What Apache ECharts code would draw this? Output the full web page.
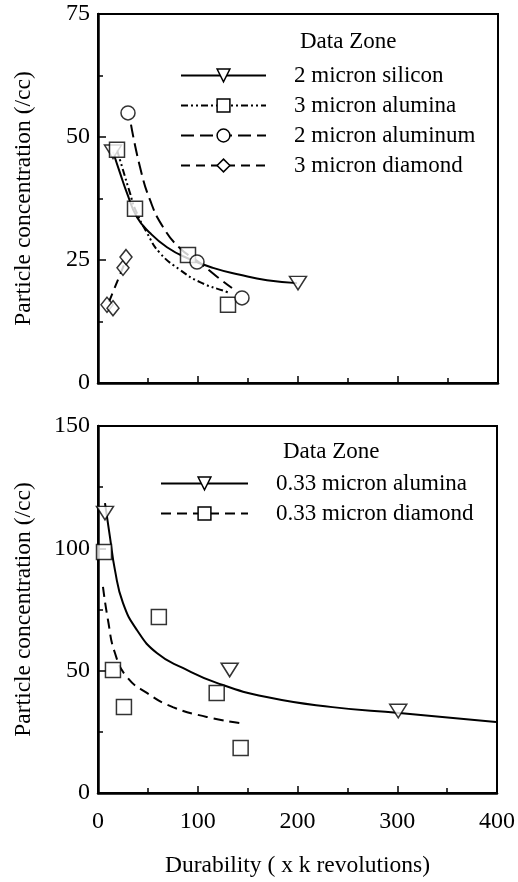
<!DOCTYPE html>
<html>
<head>
<meta charset="utf-8">
<script src="https://cdn.jsdelivr.net/npm/echarts@6/dist/echarts.min.js"></script>
<style>
html, body { margin: 0; padding: 0; background: #fff; }
#chart { width: 518px; height: 882px; }
</style>
</head>
<body>
<div id="chart"></div>
<script>
// top panel: markers and fitted curves (x = k revolutions, y = /cc)
const siliconPts = [[15, 47.0], [200, 20.3]];
const siliconFit = [[15, 47.0], [22, 42.7], [29, 38.6], [39, 33.7], [52, 30.5], [69, 27.6], [89, 25.4], [115, 23.4], [142, 22.0], [169, 20.9], [199, 20.3]];
const alumina3Pts = [[19, 47.4], [37, 35.4], [90, 26.0], [130, 15.9]];
const alumina3Fit = [[19, 47.4], [25, 43.3], [32, 38.6], [37, 35.4], [49, 30.5], [62, 26.4], [82, 23.0], [102, 20.5], [129, 18.5], [132, 18.3]];
const aluminumPts = [[30, 54.9], [99, 24.6], [144, 17.3]];
const aluminumFit = [[33, 52.5], [42, 43.9], [52, 37.2], [65, 31.7], [82, 27.4], [102, 24.4], [119, 21.6], [134, 19.3]];
const diamond3Pts = [[9, 15.9], [15, 15.2], [25, 23.4], [28, 25.6]];
const diamond3Fit = [[11, 16.5], [27, 24.5]];

// bottom panel
const alumina033Pts = [[7, 114.4], [132, 50.3], [301, 33.5]];
const alumina033Fit = [[7, 118.5], [12, 104.6], [17, 91.1], [25, 77.7], [39, 66.6], [59, 57.2], [85, 51.1], [119, 45.0], [169, 39.2], [235, 35.1], [302, 32.7], [399, 29.0]];
const diamond033Pts = [[6, 98.5], [15, 50.3], [26, 35.1], [61, 71.9], [119, 40.9], [143, 18.4]];
const diamond033Fit = [[5, 84.2], [10, 70.7], [17, 57.2], [29, 47.4], [49, 40.9], [75, 35.1], [109, 31.1], [142, 28.6]];

const topTicks = [0, 25, 50, 75];
const bottomTicks = [0, 50, 100, 150];
const xTicks = [0, 100, 200, 300, 400];

const FONT = "'Liberation Serif', 'Times New Roman', serif";
const triDown = 'path://M0,0L20,0L10,18Z';
const hollow = { color: '#fff', borderColor: '#000', borderWidth: 1.5 };

function fit(name, data, type, xi, yi, symbol) {
  return {
    name: name, type: 'line', data: data, xAxisIndex: xi, yAxisIndex: yi,
    smooth: true, showSymbol: false, symbol: symbol, symbolKeepAspect: true,
    itemStyle: hollow, lineStyle: { color: '#000', width: 2, type: type },
    silent: true, z: 2
  };
}
function marks(data, xi, yi, symbol, size) {
  return {
    type: 'scatter', data: data, xAxisIndex: xi, yAxisIndex: yi,
    symbol: symbol, symbolSize: size, symbolKeepAspect: true,
    itemStyle: hollow, z: 5
  };
}

const yAxisBase = (min, max, interval, gridIndex) => ({
  type: 'value', gridIndex: gridIndex, min: min, max: max, interval: interval,
  name: 'Particle concentration (/cc)', nameLocation: 'middle', nameGap: 62,
  nameTextStyle: { fontFamily: FONT, fontSize: 23.5, color: '#000' },
  axisLine: { show: true, lineStyle: { color: '#000', width: 2.5 } },
  axisTick: { inside: true, length: 8, lineStyle: { color: '#000', width: 1.5 } },
  minorTick: { show: true, splitNumber: 2, length: 5, lineStyle: { color: '#000', width: 1.5 } },
  axisLabel: { fontFamily: FONT, fontSize: 24, color: '#000', margin: 8 },
  splitLine: { show: false }
});
const xAxisBase = (gridIndex, showLabels) => ({
  type: 'value', gridIndex: gridIndex, min: xTicks[0], max: xTicks[xTicks.length - 1], interval: 100,
  axisLine: { show: true, lineStyle: { color: '#000', width: 2.5 } },
  axisTick: { inside: true, length: 7, lineStyle: { color: '#000', width: 1.5 } },
  minorTick: { show: true, splitNumber: 2, length: 5, lineStyle: { color: '#000', width: 1.5 } },
  axisLabel: { show: showLabels, fontFamily: FONT, fontSize: 24, color: '#000', margin: 17 },
  splitLine: { show: false }
});

const legendBase = {
  orient: 'vertical', itemGap: 7, itemWidth: 85, itemHeight: 16,
  textStyle: { fontFamily: FONT, fontSize: 23, color: '#000', lineHeight: 22, padding: [0, 0, 0, 23] },
  itemStyle: { color: '#fff', borderColor: '#000', borderWidth: 1.5 },
  lineStyle: { color: '#000', width: 2 },
  selectedMode: false
};

const chart = echarts.init(document.getElementById('chart'));
chart.setOption({
  animation: false,
  backgroundColor: '#fff',
  title: [
    { text: 'Data Zone', left: 300, top: 30, textStyle: { fontFamily: FONT, fontSize: 23, fontWeight: 'normal', color: '#000' }, padding: 0 },
    { text: 'Data Zone', left: 283, top: 440, textStyle: { fontFamily: FONT, fontSize: 23, fontWeight: 'normal', color: '#000' }, padding: 0 }
  ],
  legend: [
    Object.assign({}, legendBase, { left: 180, top: 64, padding: 0,
      data: ['2 micron silicon', '3 micron alumina', '2 micron aluminum', '3 micron diamond'] }),
    Object.assign({}, legendBase, { left: 160, top: 472, padding: 0, itemWidth: 87,
      data: ['0.33 micron alumina', '0.33 micron diamond'] })
  ],
  grid: [
    { left: 98, top: 14, width: 400, height: 369, show: true, borderColor: '#000', borderWidth: 2, backgroundColor: 'transparent' },
    { left: 98, top: 426, width: 400, height: 367, show: true, borderColor: '#000', borderWidth: 2, backgroundColor: 'transparent' }
  ],
  xAxis: [
    xAxisBase(0, false),
    Object.assign(xAxisBase(1, true), {
      name: 'Durability ( x k revolutions)', nameLocation: 'middle', nameGap: 61,
      nameTextStyle: { fontFamily: FONT, fontSize: 23.5, color: '#000' }
    })
  ],
  yAxis: [
    yAxisBase(topTicks[0], topTicks[topTicks.length - 1], 25, 0),
    yAxisBase(bottomTicks[0], bottomTicks[bottomTicks.length - 1], 50, 1)
  ],
  series: [
    fit('2 micron silicon', siliconFit, 'solid', 0, 0, triDown),
    fit('3 micron alumina', alumina3Fit, [7, 3, 2, 3, 2, 3], 0, 0, 'rect'),
    fit('2 micron aluminum', aluminumFit, [13, 6], 0, 0, 'circle'),
    fit('3 micron diamond', diamond3Fit, [9, 6], 0, 0, 'diamond'),
    marks(siliconPts, 0, 0, triDown, [17, 15]),
    marks(alumina3Pts, 0, 0, 'rect', 15),
    marks(aluminumPts, 0, 0, 'circle', 14),
    marks(diamond3Pts, 0, 0, 'diamond', [12, 15]),
    fit('0.33 micron alumina', alumina033Fit, 'solid', 1, 1, triDown),
    fit('0.33 micron diamond', diamond033Fit, [10, 6], 1, 1, 'rect'),
    marks(alumina033Pts, 1, 1, triDown, [17, 15]),
    marks(diamond033Pts, 1, 1, 'rect', 15)
  ]
});
</script>
</body>
</html>
